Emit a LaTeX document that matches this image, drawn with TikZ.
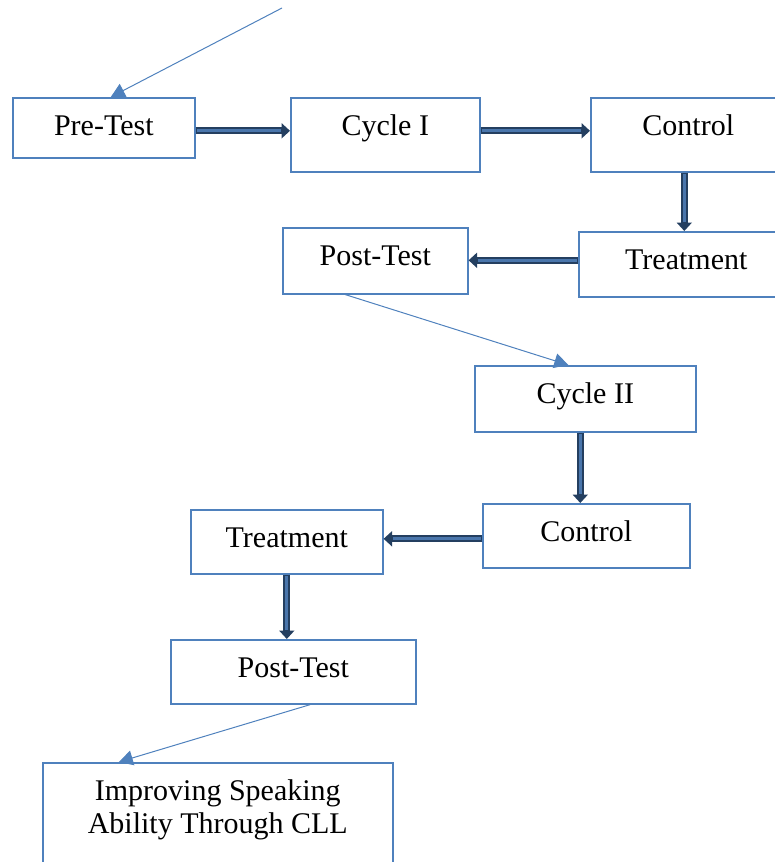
\documentclass[tikz,border=0pt]{standalone}
\usepackage{fontspec}
\setmainfont{Liberation Serif}
\usetikzlibrary{arrows.meta,calc,positioning}
\definecolor{boxblue}{RGB}{79,129,189}
\definecolor{arrowdark}{RGB}{36,63,96}
\definecolor{arrowlight}{RGB}{74,118,172}
\tikzset{stepbox/.style={draw=boxblue, line width=1.6pt, anchor=north west,
		inner xsep=0pt, inner ysep=0pt, align=flush center, text height=38pt,
		font=\fontsize{30}{33}\selectfont}}
\tikzset{blockarrow/.style={draw=arrowdark, line width=7pt,
		-{Triangle[width=15pt,length=8.5pt]},
		postaction={draw=arrowlight, line width=3pt, shorten >=9.5pt, shorten <=1.5pt, -}}}
\tikzset{thinarrow/.style={draw=boxblue, line width=1pt,
		-{Triangle[width=15pt,length=14pt]}}}

\begin{document}
\begin{tikzpicture}[x=1pt, y=-1pt]
	\useasboundingbox (0,0) rectangle (774,862);
	% first cycle
	\node[stepbox, minimum width=182pt, text depth=22pt] (pre) at (12,97) {Pre-Test};
	\node[stepbox, minimum width=189pt, text depth=36pt] (cyc1) at (290,97) {Cycle I};
	\node[stepbox, minimum width=195pt, text depth=36pt] (ctl1) at (590,97) {Control};
	\node[stepbox, minimum width=215pt, text depth=27pt] (trt1) at (578,231) {Treatment};
	\node[stepbox, minimum width=185pt, text depth=28pt] (post1) at (282,227) {Post-Test};
	% second cycle
	\node[stepbox, minimum width=221pt, text depth=28pt] (cyc2) at (474,365) {Cycle II};
	\node[stepbox, minimum width=207pt, text depth=26pt] (ctl2) at (482,503) {Control};
	\node[stepbox, minimum width=192pt, text depth=26pt] (trt2) at (190,509) {Treatment};
	\node[stepbox, minimum width=245pt, text depth=26pt] (post2) at (170,639) {Post-Test};
	\node[stepbox, minimum width=350pt, text width=350pt, text depth=82pt] (res) at (42,762)
		{Improving Speaking\\Ability Through CLL};
	\coordinate (start) at (282,8);
	
	\draw[thinarrow] (start) -- ([xshift=7pt]pre.north);
	\draw[blockarrow] ([yshift=-3pt]pre.east) -- ([yshift=-3pt]pre.east -| cyc1.west);
	\draw[blockarrow] ([yshift=4pt]cyc1.east) -- ([yshift=4pt]cyc1.east -| ctl1.west);
	\draw[blockarrow] ([xshift=-4pt]ctl1.south) -- ([xshift=-4pt]ctl1.south |- trt1.north);
	\draw[blockarrow] ([yshift=4pt]trt1.west) -- ([yshift=4pt]trt1.west -| post1.east);
	\draw[thinarrow] ([xshift=-30pt]post1.south) -- ([xshift=-17pt]cyc2.north);
	\draw[blockarrow] ([xshift=-5pt]cyc2.south) -- ([xshift=-5pt]cyc2.south |- ctl2.north);
	\draw[blockarrow] ([yshift=-3pt]ctl2.west) -- ([yshift=-3pt]ctl2.west -| trt2.east);
	\draw[blockarrow] (trt2.south) -- (trt2.south |- post2.north);
	\draw[thinarrow] ([xshift=17pt]post2.south) -- ([xshift=-99pt]res.north);
\end{tikzpicture}
\end{document}
